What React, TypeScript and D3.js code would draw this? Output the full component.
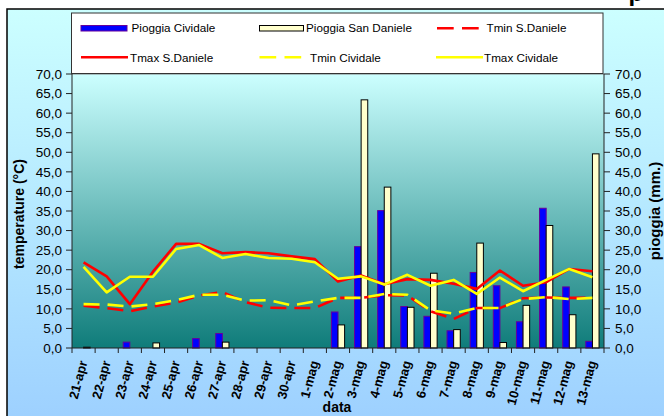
import React from "react";
import * as d3 from "d3";

const categories = ["21-apr","22-apr","23-apr","24-apr","25-apr","26-apr","27-apr","28-apr","29-apr","30-apr","1-mag","2-mag","3-mag","4-mag","5-mag","6-mag","7-mag","8-mag","9-mag","10-mag","11-mag","12-mag","13-mag"];
const pioggiaCividale = [0,0,1.5,0,0,2.4,3.7,0,0,0,0,9.2,25.9,35.1,10.6,8.1,4.4,19.3,15.9,6.7,35.7,15.6,1.7];
const pioggiaSanDaniele = [0.2,0,0,1.3,0,0,1.5,0,0,0,0,5.9,63.4,41.1,10.4,19.1,4.7,26.8,1.4,10.9,31.3,8.5,49.6];
const tminSDaniele = [10.8,10.2,9.4,10.6,11.6,13.4,14.3,11.7,10.3,10.2,10.2,12.8,12.8,13.5,13.4,9.4,7.4,10.2,10.2,12.7,12.9,12.8,12.8];
const tmaxSDaniele = [21.9,18.3,11.2,19.5,26.6,26.6,24.2,24.5,24.2,23.4,22.7,17.0,18.5,16.3,17.6,17.4,16.4,15.1,19.8,15.9,16.8,20.2,19.6];
const tminCividale = [11.2,11.1,10.6,11.2,12.2,13.6,13.6,12.1,12.2,10.9,11.9,12.8,12.8,13.8,13.6,9.6,8.8,10.2,10.2,12.5,13.0,12.5,12.8];
const tmaxCividale = [20.7,14.2,18.2,18.2,25.3,26.3,23.0,24.0,23.0,22.8,21.9,17.7,18.3,16.2,18.7,15.9,17.4,13.8,18.0,14.5,17.4,20.2,18.1];
const yTicks = [0,5,10,15,20,25,30,35,40,45,50,55,60,65,70];

const W = 664, H = 416;
const L = 72, R = 604, T = 74, B = 348;
const FONT = "'Liberation Sans', Arial, sans-serif";

export default function App() {
  const x = d3.scaleBand<string>().domain(categories).range([L, R]).paddingInner(0).paddingOuter(0);
  const y = d3.scaleLinear().domain([0, 70]).range([B, T]);
  const bw = x.bandwidth() / 3.5;
  const cx = (c: string) => (x(c) as number) + x.bandwidth() / 2;
  const fmt = (v: number) => v.toFixed(1).replace(".", ",");
  const line = d3.line<number>().x((_, i) => cx(categories[i])).y((d) => y(d));

  const series = [
    { name: "Tmin S.Daniele", data: tminSDaniele, color: "#ff0000", dash: "16,8" },
    { name: "Tmax S.Daniele", data: tmaxSDaniele, color: "#ff0000", dash: "none" },
    { name: "Tmin Cividale", data: tminCividale, color: "#ffff00", dash: "16,8" },
    { name: "Tmax Cividale", data: tmaxCividale, color: "#ffff00", dash: "none" },
  ];

  const boundaries = d3.range(categories.length + 1).map((k) => L + k * x.bandwidth());

  return (
    <svg width={W} height={H} style={{ position: "absolute", left: 0, top: 0, background: "#fff" }} fontFamily={FONT}>
      <defs>
        <linearGradient id="outerG" x1="0" y1="0" x2="0" y2="1">
          <stop offset="0" stopColor="#ccffff" />
          <stop offset="1" stopColor="#99ccff" />
        </linearGradient>
        <linearGradient id="plotG" x1="0" y1="0" x2="0" y2="1">
          <stop offset="0" stopColor="#ccffff" />
          <stop offset="1" stopColor="#0f7c7a" />
        </linearGradient>
      </defs>
      <text x={628.5} y={0.5} fontSize={24} fontWeight="bold" fill="#000">p</text>
      <rect x={7} y={9} width={700} height={450} fill="url(#outerG)" stroke="#000" strokeWidth={1.5} />
      <rect x={L} y={T} width={R - L} height={B - T} fill="url(#plotG)" />
      <line x1={L} x2={R} y1={T} y2={T} stroke="#808080" strokeWidth={1} />

      {/* bars */}
      {categories.map((c, i) => (
        <g key={c}>
          {pioggiaCividale[i] > 0 && (
            <rect x={cx(c) - bw} y={y(pioggiaCividale[i])} width={bw} height={B - y(pioggiaCividale[i])}
              fill="#0000ff" stroke="#660099" strokeWidth={1} />
          )}
          {pioggiaSanDaniele[i] > 0 && (
            <rect x={cx(c)} y={y(pioggiaSanDaniele[i])} width={bw} height={B - y(pioggiaSanDaniele[i])}
              fill="#ffffcc" stroke="#000" strokeWidth={1} />
          )}
        </g>
      ))}

      {/* lines */}
      {series.map((s) => (
        <path key={s.name} d={line(s.data) as string} fill="none" stroke={s.color} strokeWidth={2.6}
          strokeDasharray={s.dash} strokeLinejoin="round" />
      ))}

      {/* axes */}
      <line x1={L} x2={L} y1={T} y2={B} stroke="#222" strokeWidth={1} />
      <line x1={R} x2={R} y1={T} y2={B} stroke="#222" strokeWidth={1} />
      <line x1={L} x2={R} y1={B} y2={B} stroke="#222" strokeWidth={1} />
      {yTicks.map((t) => (
        <g key={t}>
          <line x1={L - 6} x2={L} y1={y(t)} y2={y(t)} stroke="#222" />
          <line x1={R} x2={R + 6} y1={y(t)} y2={y(t)} stroke="#222" />
          <text x={L - 10} y={y(t)} dy="0.35em" textAnchor="end" fontSize={13.5} fill="#000">{fmt(t)}</text>
          <text x={R + 11} y={y(t)} dy="0.35em" textAnchor="start" fontSize={13.5} fill="#000">{fmt(t)}</text>
        </g>
      ))}
      {boundaries.map((bx, k) => (
        <line key={k} x1={bx} x2={bx} y1={B} y2={B + 5} stroke="#222" />
      ))}
      {categories.map((c) => (
        <text key={c} transform={`translate(${cx(c) + 4},${362}) rotate(-75)`} textAnchor="end"
          fontSize={13} fontWeight="bold" fill="#000">{c}</text>
      ))}
      <text x={337} y={412} textAnchor="middle" fontSize={14} fontWeight="bold" fill="#000">data</text>
      <text transform={`translate(24,214) rotate(-90)`} textAnchor="middle" fontSize={14} fontWeight="bold" fill="#000">temperature (°C)</text>
      <text transform={`translate(660,211) rotate(-90)`} textAnchor="middle" fontSize={15} fontWeight="bold" fill="#000">pioggia (mm.)</text>

      {/* legend */}
      <rect x={71.5} y={13} width={531.5} height={60.5} fill="#fff" stroke="#333" strokeWidth={1} />
      <rect x={81} y={25.5} width={46} height={5.5} fill="#0000ff" stroke="#660099" strokeWidth={1} />
      <text x={131.5} y={28.3} dy="0.35em" fontSize={11.7} fill="#000">Pioggia Cividale</text>
      <rect x={259.5} y={25.5} width={44} height={5.5} fill="#ffffcc" stroke="#000" strokeWidth={1} />
      <text x={306} y={28.3} dy="0.35em" fontSize={11.7} fill="#000">Pioggia San Daniele</text>
      <line x1={437} x2={479} y1={28.3} y2={28.3} stroke="#ff0000" strokeWidth={2.6} strokeDasharray="16.7,8.3" />
      <text x={486.5} y={28.3} dy="0.35em" fontSize={11.7} fill="#000">Tmin S.Daniele</text>
      <line x1={81} x2={128} y1={57.3} y2={57.3} stroke="#ff0000" strokeWidth={2.6} />
      <text x={130} y={57.6} dy="0.35em" fontSize={11.7} fill="#000">Tmax S.Daniele</text>
      <line x1={259.5} x2={302} y1={57.3} y2={57.3} stroke="#ffff00" strokeWidth={2.6} strokeDasharray="16.7,8.3" />
      <text x={310} y={57.6} dy="0.35em" fontSize={11.7} fill="#000">Tmin Cividale</text>
      <line x1={436} x2={483} y1={57.3} y2={57.3} stroke="#ffff00" strokeWidth={2.6} />
      <text x={484} y={57.6} dy="0.35em" fontSize={11.7} fill="#000">Tmax Cividale</text>
    </svg>
  );
}
